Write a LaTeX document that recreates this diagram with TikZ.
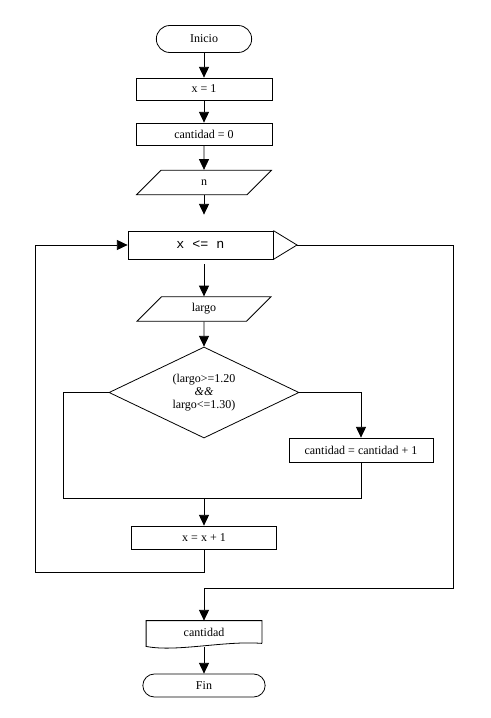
\documentclass[tikz,border=0pt]{standalone}
\usepackage{fontspec}
\setmainfont{Liberation Serif}
\newfontfamily\courier{Liberation Mono}
\usetikzlibrary{shapes.misc,shapes.geometric,arrows.meta}

\begin{document}
\begin{tikzpicture}[x=0.75pt,y=-0.75pt,line width=0.6pt,
		font=\fontsize{9}{10}\selectfont,
		flecha/.style={-{Triangle[width=7.5pt,length=8pt]}},
		caja/.style={draw,rectangle,inner sep=1pt,minimum width=102pt,minimum height=16.5pt},
		terminal/.style={draw,rounded rectangle,inner sep=1pt},
		lectura/.style={draw,trapezium,trapezium left angle=45,trapezium right angle=135,
			trapezium stretches body,text height=6pt,text depth=2pt,
			inner xsep=1pt,inner ysep=5.2pt},
		decision/.style={draw,diamond,aspect=2,inner sep=0pt}]
		\useasboundingbox (0,0) rectangle (490,718);
		\node[terminal,minimum width=73.5pt,minimum height=20.25pt] (inicio) at (204,39) {Inicio};
		\node[caja] (x1) at (204,89) {x = 1};
		\node[caja] (cant0) at (204,134) {cantidad = 0};
		\node[lectura,minimum width=101.25pt] (n) at (204,182.5) {n};
		\node[caja,minimum width=108.75pt,minimum height=21pt,
			font={\fontsize{10}{12}\courier}] (cond) at (200.5,245) {x <= n};
		\coordinate (punta) at (297,245);
		\node[lectura,minimum width=100.5pt] (largo) at (204,309) {largo};
		\node[decision,minimum width=142.5pt,minimum height=68.25pt,align=center] (cmp)
			at (204,392.5) {(largo>=1.20\\\textit{\&\&}\\largo<=1.30)};
		\node[caja,minimum width=108pt,minimum height=18pt] (inc) at (361,450) {cantidad = cantidad + 1};
		\node[caja,minimum width=108.75pt,minimum height=17.25pt] (xinc) at (204,537.5) {x = x + 1};
		\node[rectangle,inner sep=1pt,minimum width=86.25pt,minimum height=16.5pt] (out)
			at (204,632) {cantidad};
		\node[terminal,minimum width=93.75pt,minimum height=17.25pt] (fin) at (204,685.5) {Fin};
		\coordinate (izq) at (63,498);
		\coordinate (union) at (204,498);
		\coordinate (vuelta) at (35,572);
		\coordinate (salida) at (453,588);

		\draw (cond.north east) -- (punta) -- (cond.south east);
		\draw (out.south east) -- (out.north east) -- (out.north west) -- (out.south west)
			-- ([yshift=-2.25pt]out.south west) .. controls +(30,6) and +(-37,-3) .. (out.south east);

		\draw[flecha] (inicio.south) -- (x1.north);
		\draw[flecha] (x1.south) -- (cant0.north);
		\draw[flecha] (cant0.south) -- (n.north);
		\draw[flecha,shorten >=12pt] (n.south) -- (n.south |- cond.north);
		\draw[flecha,shorten <=3.75pt] (largo.north |- cond.south) -- (largo.north);
		\draw[flecha] (largo.south) -- (cmp.north);
		\draw[flecha] (cmp.east) -| (inc.north);
		\draw (cmp.west) -| (izq) -| (inc.south);
		\draw[flecha] (union) -- (xinc.north);
		\draw[flecha] (xinc.south) |- (vuelta) |- (cond.west);
		\draw[flecha] (punta) -| (salida) -| (out.north);
		\draw[flecha] ([yshift=-3pt]out.south) -- (fin.north);
	\end{tikzpicture}
\end{document}
